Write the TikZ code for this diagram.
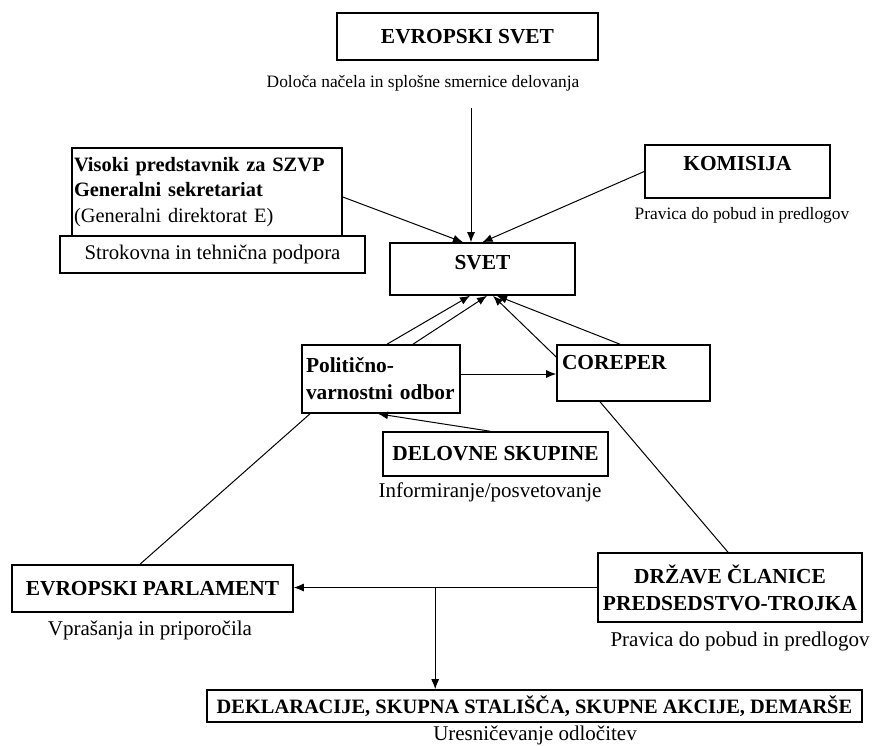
\documentclass[tikz,border=0pt]{standalone}
\usepackage{fontspec}
\setmainfont{Liberation Serif}
\usetikzlibrary{arrows.meta, positioning}

\begin{document}
\begin{tikzpicture}[
    x=0.5pt, y=-0.5pt,
    box/.style={draw, line width=0.8pt, inner sep=1pt, font=\bfseries\fontsize{10.7}{13.5}\selectfont},
    conn/.style={line width=0.5pt},
    arr/.style={conn, -{Latex[length=5pt, width=4pt]}},
    note/.style={inner sep=0pt, font=\fontsize{10.5}{13}\selectfont},
    smallnote/.style={inner sep=0pt, font=\fontsize{8.7}{10.5}\selectfont},
    raised/.style={text depth=#1}
]
\useasboundingbox (0,0) rectangle (883,745);

% top
\node[box, minimum width=130.5pt, minimum height=23.5pt] (es) at (467.5,36.5) {EVROPSKI SVET};
\node[smallnote] (esl) at (423,83) {Določa načela in splošne smernice delovanja};

\node[box, font=\bfseries\fontsize{10.2}{12.8}\selectfont, minimum width=135pt, minimum height=44pt,
      text width=133pt, align=left] (visoki) at (207,192)
    {Visoki predstavnik za SZVP\\Generalni sekretariat\\\mdseries(Generalni direktorat E)};
\node[box, font=\fontsize{10.4}{13}\selectfont, minimum width=152.5pt, minimum height=18.5pt] (strok) at (212.5,254.5)
    {Strokovna in tehnična podpora};

\node[box, raised=8.5pt, minimum width=92.5pt, minimum height=26.5pt] (kom) at (737.5,171.5) {KOMISIJA};
\node[smallnote] (koml) at (742,215) {Pravica do pobud in predlogov};

\node[box, raised=7pt, minimum width=92.5pt, minimum height=26pt] (svet) at (482.5,269) {SVET};

% middle
\node[box, minimum width=79pt, minimum height=34pt, text width=75pt, align=left] (pol) at (381,379)
    {Politično-\\varnostni odbor};
\node[box, raised=11pt, minimum width=76.5pt, minimum height=28pt, text width=71.5pt, align=left] (cor) at (633.5,373) {COREPER};

\node[box, minimum width=112.5pt, minimum height=22pt] (del) at (495.5,454) {DELOVNE SKUPINE};
\node[note] (dell) at (490,492) {Informiranje/posvetovanje};

% bottom
\node[box, minimum width=140.5pt, minimum height=23.5pt] (ep) at (152.5,588.5) {EVROPSKI PARLAMENT};
\node[note] (epl) at (150,630) {Vprašanja in priporočila};

\node[box, minimum width=132pt, minimum height=34.5pt, align=center] (drz) at (730,587.5)
    {DRŽAVE ČLANICE\\PREDSEDSTVO-TROJKA};
\node[note] (drzl) at (740,641) {Pravica do pobud in predlogov};

\node[box, font=\bfseries\fontsize{10.2}{12}\selectfont, minimum width=327.5pt, minimum height=16pt] (dek) at (534.5,706)
    {DEKLARACIJE, SKUPNA STALIŠČA, SKUPNE AKCIJE, DEMARŠE};
\node[note] (dekl) at (535,735) {Uresničevanje odločitev};

% connectors
\coordinate (estop) at (471,108);
\draw[arr] (estop) -- (estop |- svet.north);
\draw[arr] ([yshift=-2.5pt]visoki.east) -- ([xshift=-9.75pt]svet.north);
\draw[arr] (kom.west) -- (svet.north);

\draw[arr] ([xshift=3pt]pol.north) -- ([xshift=-6.25pt]svet.south);
\draw[arr] ([xshift=16pt]pol.north) -- ([xshift=2.25pt]svet.south);
\draw[arr] ([yshift=8pt]cor.west) -- ([xshift=5.25pt]svet.south);
\draw[arr] ([xshift=-6.75pt]cor.north) -- ([xshift=7.25pt]svet.south);
\draw[arr] ([yshift=2.5pt]pol.east) coordinate (pe) -- (pe -| cor.west);

\draw[arr] ([xshift=-2.75pt]del.north) -- ([xshift=-1.5pt]pol.south);
\draw[conn] ([xshift=-35.5pt]pol.south) -- ([xshift=-6.25pt]ep.north);
\draw[conn] ([xshift=-16.75pt]cor.south) -- ([xshift=-1pt]drz.north);

\draw[arr] (drz.west) -- (drz.west -| ep.east) coordinate[pos=0.534] (split);
\draw[arr] (split) -- (split |- dek.north);

\end{tikzpicture}
\end{document}
